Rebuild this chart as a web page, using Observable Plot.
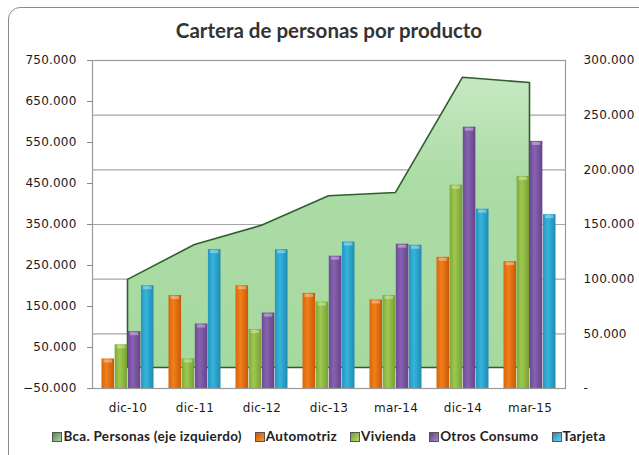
<!DOCTYPE html>
<html><head><meta charset="utf-8">
<script src="https://cdn.jsdelivr.net/npm/d3@7"></script>
<script src="https://cdn.jsdelivr.net/npm/@observablehq/plot@0.6"></script>
<style>
body{margin:0;background:#fff;}
#wrap{position:relative;width:639px;height:455px;overflow:hidden;}
#frame{position:absolute;left:8px;top:7px;width:660px;height:470px;border:1px solid #8c8c8c;border-radius:12px;box-sizing:border-box;}
#title{position:absolute;left:0;top:18px;width:658px;text-align:center;font:bold 20.5px Lato;color:#333;}
#chart{position:absolute;left:0;top:50px;}
#legend{position:absolute;left:0;top:428px;width:658px;text-align:center;font:bold 13.5px Lato;letter-spacing:0.3px;color:#222;white-space:nowrap;}
#legend span.item{margin:0 6.5px;}
#legend span.sw{display:inline-block;width:8px;height:8px;border:1px solid #555;margin-right:1px;vertical-align:-1px;}
</style></head>
<body>
<svg width="0" height="0" style="position:absolute">
<defs>
<linearGradient id="gOrange" x1="0" x2="1" y1="0" y2="0"><stop offset="0" stop-color="#d9650a"/><stop offset="0.4" stop-color="#f07f1c"/><stop offset="1" stop-color="#c95a06"/></linearGradient>
<linearGradient id="gGreen" x1="0" x2="1" y1="0" y2="0"><stop offset="0" stop-color="#7fa83a"/><stop offset="0.4" stop-color="#9ec94f"/><stop offset="1" stop-color="#76a033"/></linearGradient>
<linearGradient id="gPurple" x1="0" x2="1" y1="0" y2="0"><stop offset="0" stop-color="#6e4b94"/><stop offset="0.4" stop-color="#8762b0"/><stop offset="1" stop-color="#65438a"/></linearGradient>
<linearGradient id="gBlue" x1="0" x2="1" y1="0" y2="0"><stop offset="0" stop-color="#2397c0"/><stop offset="0.4" stop-color="#36b4dc"/><stop offset="1" stop-color="#1f8bb1"/></linearGradient>
<linearGradient id="gArea" x1="0" x2="0" y1="0" y2="1"><stop offset="0" stop-color="#c6e8c1"/><stop offset="0.35" stop-color="#acdca6"/><stop offset="1" stop-color="#a6d9a0"/></linearGradient>
</defs>
</svg>
<div id="wrap">
  <div id="frame"></div>
  <div id="title">Cartera de personas por producto</div>
  <div id="chart"></div>
  <div id="legend"></div>
</div>
<script>
const categories = ["dic-10","dic-11","dic-12","dic-13","mar-14","dic-14","mar-15"];
// left axis series (Bca. Personas), full units
const bcaPersonas = [215000, 300000, 347000, 419000, 427000, 708000, 695000];
// right axis series
const automotriz   = [27000, 85000, 94000, 87000, 81000, 120000, 116000];
const vivienda     = [40000, 27000, 54000, 79000, 85000, 186000, 194000];
const otrosConsumo = [52000, 59000, 69000, 121000, 132000, 239000, 226000];
const tarjeta      = [94000, 127000, 127000, 134000, 131000, 164000, 159000];
const leftTicks  = [-50000, 50000, 150000, 250000, 350000, 450000, 550000, 650000, 750000];
const rightTicks = [0, 50000, 100000, 150000, 200000, 250000, 300000];
const seriesNames = ["Bca. Personas (eje izquierdo)", "Automotriz", "Vivienda", "Otros Consumo", "Tarjeta"];

const leftDomain = [-50000, 750000];
const rightDomain = [0, 300000];
const toRight = v => (v - leftDomain[0]) / (leftDomain[1] - leftDomain[0]) * (rightDomain[1] - rightDomain[0]) + rightDomain[0];
const toLeft = v => (v - rightDomain[0]) / (rightDomain[1] - rightDomain[0]) * (leftDomain[1] - leftDomain[0]) + leftDomain[0];
const es = d3.formatLocale({decimal: ",", thousands: ".", grouping: [3], currency: ["$", ""]});
const fmt = es.format(",");
const fmtRight = v => v === 0 ? "-" : fmt(v);

const W = 639, H = 370, mL = 92, mR = 74;
const bw = (W - mL - mR) / categories.length;
const gap = 7.5, barW = (bw - 2 * gap) / 4;

const areaData = categories.map((c, i) => ({cat: c, v: bcaPersonas[i]}));
const barSeries = [
  {vals: automotriz, fill: "url(#gOrange)"},
  {vals: vivienda, fill: "url(#gGreen)"},
  {vals: otrosConsumo, fill: "url(#gPurple)"},
  {vals: tarjeta, fill: "url(#gBlue)"}
];

const barMarks = barSeries.map((s, i) => Plot.barY(categories.map((c, j) => ({cat: c, v: s.vals[j]})), {
  x: "cat", y1: 0, y2: "v", fill: s.fill,
  insetLeft: gap + barW * i, insetRight: bw - gap - barW * (i + 1)
}));
const capMarks = barSeries.map((s, i) => Plot.tickY(categories.map((c, j) => ({cat: c, v: s.vals[j]})), {
  x: "cat", y: "v", stroke: "#ffffff", strokeOpacity: 0.35, strokeWidth: 3, dy: 2,
  insetLeft: gap + barW * i + 2, insetRight: bw - gap - barW * (i + 1) + 2
}));

const chart = Plot.plot({
  width: W, height: H,
  marginLeft: mL, marginRight: mR, marginTop: 10, marginBottom: 32,
  style: {fontFamily: "DejaVu Sans", fontSize: "12px", color: "#1a1a1a", background: "transparent", letterSpacing: "0.2px"},
  x: {type: "band", domain: categories, padding: 0, label: null},
  y: {domain: rightDomain, label: null},
  marks: [
    Plot.ruleY(rightTicks.slice(1, -1), {stroke: "#a6a6a6", strokeWidth: 1.2}),
    Plot.areaY(areaData, {x: "cat", y1: toRight(0), y2: d => toRight(d.v), fill: "url(#gArea)", stroke: "#2f5e2b", strokeWidth: 1.6, strokeLinejoin: "round"}),
    ...barMarks,
    ...capMarks,
    Plot.frame({stroke: "#9a9a9a", strokeWidth: 1.2}),
    Plot.axisY({anchor: "left", ticks: leftTicks.map(toRight), tickFormat: d => fmt(Math.round(toLeft(d))), tickSize: 5, tickPadding: 11, stroke: "#888", label: null}),
    Plot.axisY({anchor: "right", ticks: rightTicks, tickFormat: fmtRight, tickSize: 0, tickPadding: 18, label: null}),
    Plot.axisX({tickSize: 0, tickPadding: 15, label: null})
  ]
});
document.getElementById("chart").appendChild(chart);

const swFills = ["linear-gradient(135deg,#4f8a48,#a6d9a0)", "linear-gradient(135deg,#c95a06,#f59a40)", "linear-gradient(135deg,#76a033,#b6dc6a)", "linear-gradient(135deg,#65438a,#a584cc)", "linear-gradient(135deg,#1f8bb1,#6fd0ee)"];
const legend = document.getElementById("legend");
seriesNames.forEach((n, i) => {
  const it = document.createElement("span");
  it.className = "item";
  const sw = document.createElement("span");
  sw.className = "sw";
  sw.style.background = swFills[i];
  it.appendChild(sw);
  it.appendChild(document.createTextNode(n));
  legend.appendChild(it);
});
</script>
</body></html>
